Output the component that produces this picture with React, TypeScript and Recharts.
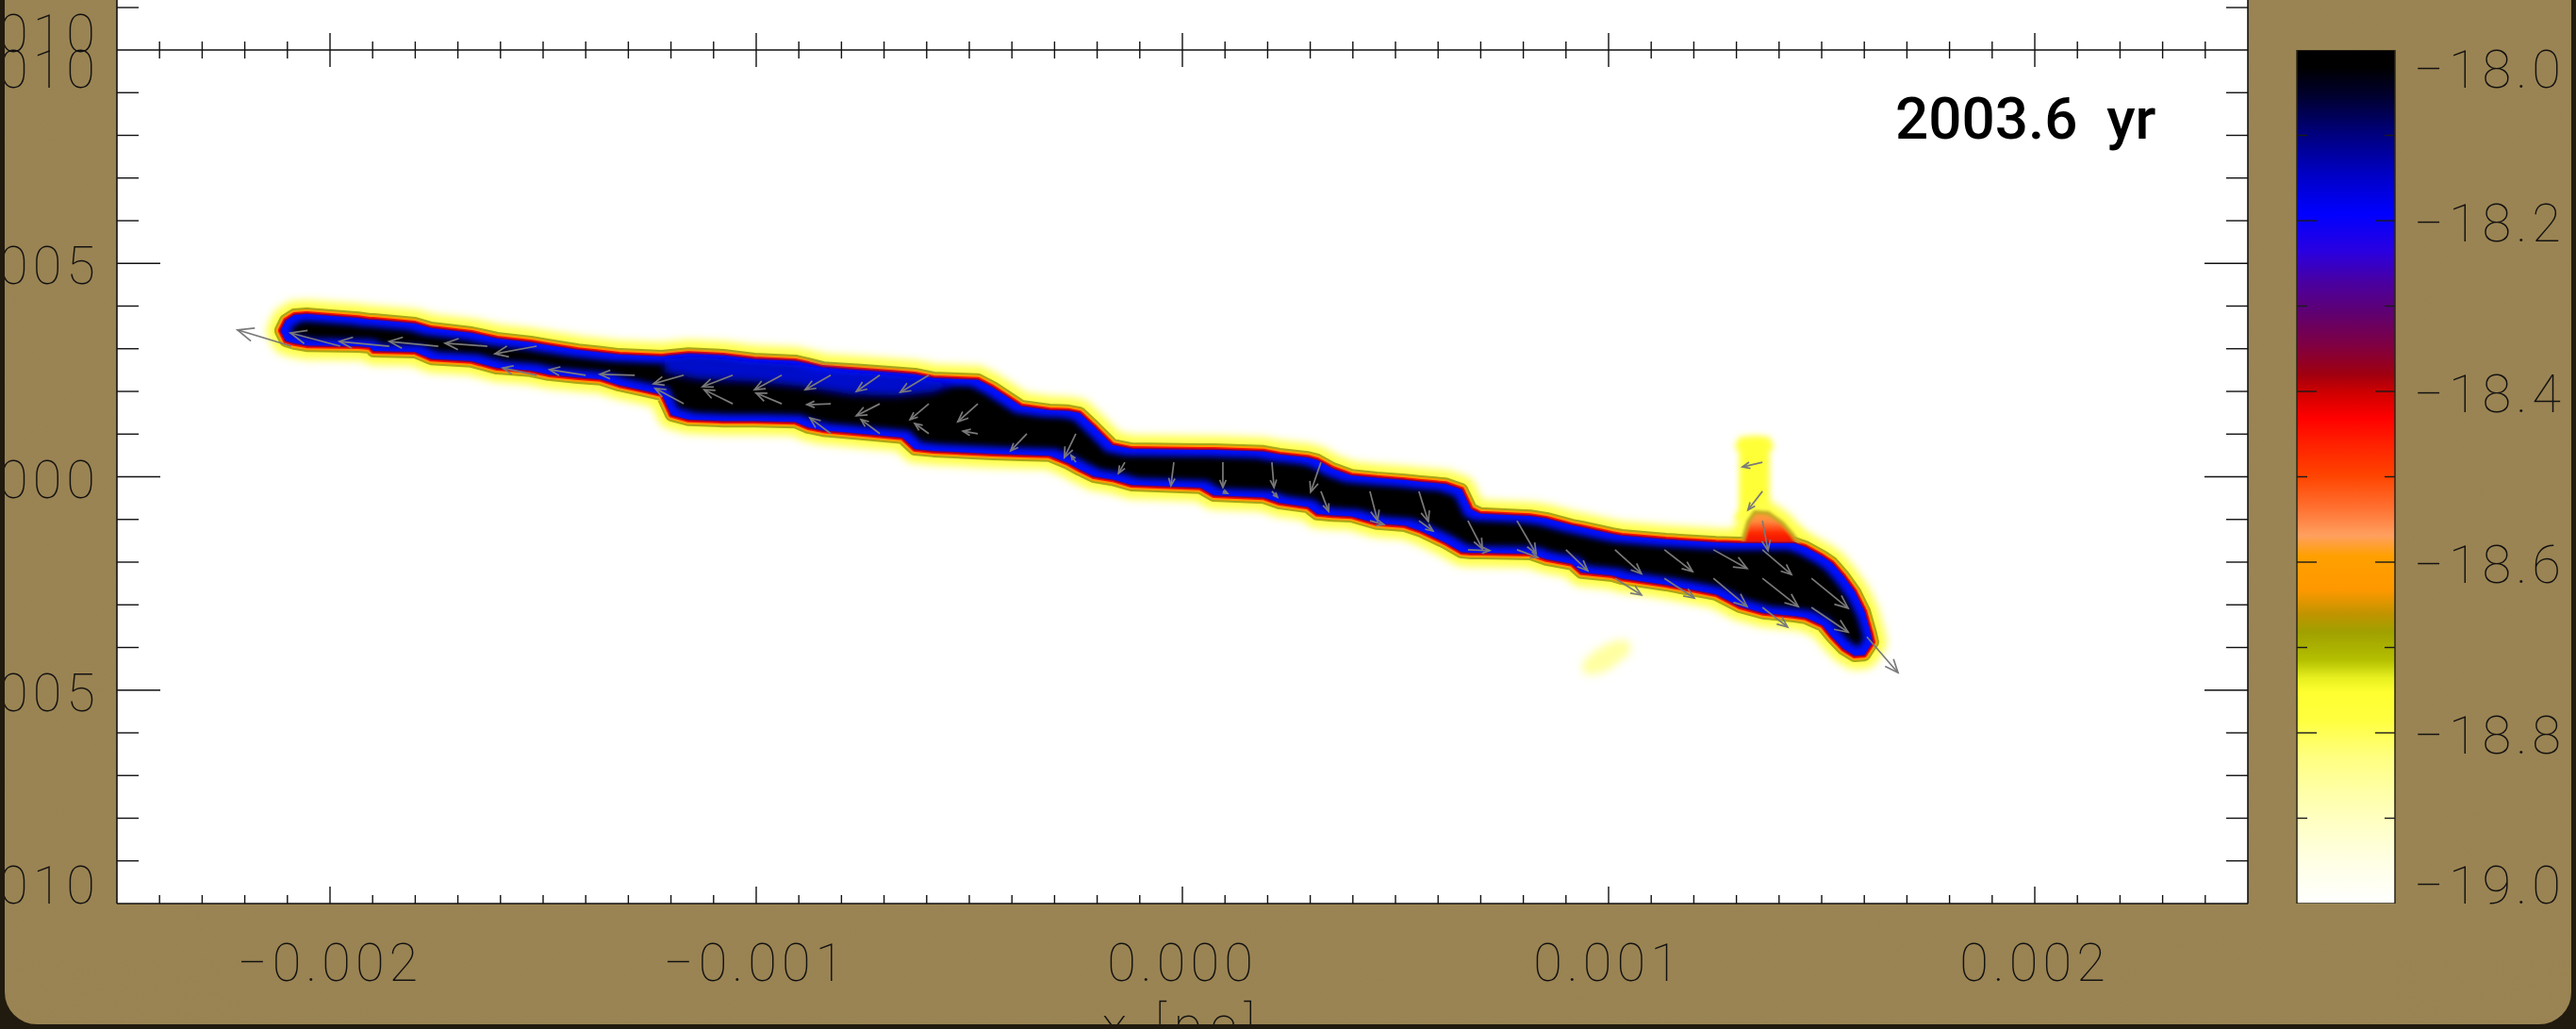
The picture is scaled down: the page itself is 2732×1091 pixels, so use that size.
import React from 'react'
import { ComposedChart, Area, Line, XAxis, YAxis, CartesianGrid, BarChart, Bar } from 'recharts'

const W = 2732
const H = 1091
// axes are 1px thick, so the plot box still lands on x 124..2384, y 53..958
const M = { top: 52, left: 123, right: 347, bottom: 132 }

// filament outline: x [pc], upper and lower edge y [pc]
const filX = [-0.002115, -0.002104, -0.002084, -0.002055, -0.001934, -0.001907, -0.001898, -0.001801, -0.001763, -0.001668,
  -0.001608, -0.001529, -0.001487, -0.001418, -0.001365, -0.001321, -0.00127, -0.001221, -0.001199, -0.001159,
  -0.001077, -0.001004, -0.000909, -0.000878, -0.000843, -0.000754, -0.000657, -0.000628, -0.000584, -0.00048,
  -0.000445, -0.000378, -0.000312, -0.000268, -0.000241, -0.000208, -0.000164, -0.000119, 0.000042, 0.000073,
  0.00019, 0.000228, 0.000294, 0.000316, 0.000352, 0.000396, 0.000456, 0.000522, 0.00056, 0.000617,
  0.000655, 0.000677, 0.000699, 0.000816, 0.000854, 0.000914, 0.000936, 0.001009, 0.001031, 0.001135,
  0.001252, 0.001308, 0.001363, 0.001436, 0.001462, 0.001502, 0.001524, 0.001551, 0.001577, 0.0016, 0.001615, 0.001619]
const filTop = [0.000344, 0.000366, 0.000379, 0.000381, 0.000372, 0.000368, 0.000368, 0.000359, 0.000348, 0.000337,
  0.000324, 0.000315, 0.000308, 0.000297, 0.000291, 0.000286, 0.000284, 0.000282, 0.000284, 0.000288,
  0.000284, 0.000275, 0.000271, 0.000264, 0.000255, 0.000249, 0.000242, 0.00024, 0.000231, 0.000227,
  0.000209, 0.000165, 0.000156, 0.000154, 0.000149, 0.000118, 0.000074, 0.000065, 0.000063, 0.000063,
  0.000059, 0.000052, 0.000045, 0.000039, 0.000019, 0.000003, -0.000003, -0.000008, -0.000012, -0.000017,
  -0.00003, -0.000076, -0.000087, -0.000092, -0.000098, -0.000114, -0.000118, -0.000134, -0.000138, -0.000147,
  -0.000154, -0.000156, -0.000156, -0.000156, -0.000165, -0.000187, -0.000202, -0.000233, -0.000269, -0.000315, -0.000368, -0.000386]
const filBot = [0.000341, 0.000319, 0.000313, 0.000308, 0.000306, 0.000304, 0.000295, 0.000293, 0.000277, 0.000271,
  0.000255, 0.000249, 0.00024, 0.000233, 0.000229, 0.000215, 0.000204, 0.000193, 0.000145, 0.000134,
  0.000131, 0.000131, 0.000129, 0.000116, 0.000109, 0.000101, 0.000092, 0.000065, 0.000061, 0.000056,
  0.000054, 0.000052, 0.00005, 0.000032, 0.000017, 0.000001, -0.000006, -0.000019, -0.000025, -0.000043,
  -0.000048, -0.000061, -0.00007, -0.000087, -0.00009, -0.000092, -0.000109, -0.000114, -0.000127, -0.000154,
  -0.000176, -0.000178, -0.000178, -0.00018, -0.000193, -0.000204, -0.000224, -0.000231, -0.000238, -0.000253,
  -0.000275, -0.000304, -0.000319, -0.000326, -0.00033, -0.000348, -0.000375, -0.000403, -0.000419, -0.000417, -0.000394, -0.000388]

// thinner gas sitting on top of the filament near the bend
const bumpX = [0.001315, 0.001328, 0.001343, 0.001374, 0.001407, 0.001432, 0.001446]
const bumpTop = [-0.000147, -0.000105, -0.000083, -0.000085, -0.000108, -0.000136, -0.000156]
const bumpBot = [-0.00017, -0.00017, -0.00017, -0.00017, -0.00017, -0.00017, -0.00017]

const plumeX = [0.001306, 0.001312, 0.001345, 0.001372, 0.001378]
const plumeTop = [0.00007, 0.000085, 0.000088, 0.000085, 0.00007]
const plumeBot = [-0.000094, -0.000094, -0.000094, -0.000094, -0.000094]

const wispX = [0.000949, 0.000971, 0.000998, 0.00102, 0.00104]
const wispTop = [-0.000441, -0.000419, -0.000403, -0.000394, -0.000394]
const wispBot = [-0.000452, -0.000452, -0.000441, -0.000423, -0.000408]

// lower-density (blue) strip inside the filament
const stripX = [-0.001215, -0.001137, -0.001004, -0.000894, -0.000783, -0.000673, -0.000584, -0.00054]
const stripTop = [0.000277, 0.000282, 0.000269, 0.000262, 0.000246, 0.000238, 0.000224, 0.00022]
const stripBot = [0.000244, 0.000229, 0.000222, 0.000211, 0.000193, 0.000189, 0.000198, 0.000215]

// velocity vectors: [x0, y0, x1, y1] in pc
const arrows: number[][] = [
  [-0.002091, 0.000306, -0.002217, 0.000344], [-0.001976, 0.000306, -0.002093, 0.000337],
  [-0.001861, 0.000306, -0.001978, 0.000317], [-0.001746, 0.000306, -0.001861, 0.000317],
  [-0.001631, 0.000306, -0.00173, 0.000313], [-0.001515, 0.000306, -0.001613, 0.000288],
  [-0.001515, 0.000238, -0.001595, 0.000255], [-0.0014, 0.000238, -0.001485, 0.000251],
  [-0.001285, 0.000238, -0.001367, 0.00024], [-0.00117, 0.000238, -0.001241, 0.000218],
  [-0.001055, 0.000238, -0.001126, 0.000211], [-0.00094, 0.000238, -0.001004, 0.000204],
  [-0.000825, 0.000238, -0.000885, 0.000204], [-0.00071, 0.000238, -0.000765, 0.0002],
  [-0.000595, 0.000238, -0.000662, 0.000198], [-0.00117, 0.000171, -0.001237, 0.000207],
  [-0.001055, 0.000171, -0.001122, 0.000204], [-0.00094, 0.000171, -0.001, 0.000196],
  [-0.000825, 0.000171, -0.000881, 0.000169], [-0.00071, 0.000171, -0.000765, 0.000143],
  [-0.000595, 0.000171, -0.000639, 0.000134], [-0.00048, 0.000171, -0.000527, 0.000129],
  [-0.000825, 0.000101, -0.000874, 0.000138], [-0.00071, 0.000101, -0.000754, 0.000134],
  [-0.000595, 0.000101, -0.000628, 0.000125], [-0.00048, 0.000101, -0.000515, 0.000107],
  [-0.000365, 0.000101, -0.000403, 0.000061], [-0.00025, 0.000101, -0.000277, 0.000045],
  [-0.00025, 0.000034, -0.000261, 0.00005], [-0.000135, 0.000034, -0.00015, 0.000008],
  [-0.00002, 0.000034, -0.000027, -0.000021], [0.000095, 0.000034, 0.000095, -0.000025],
  [0.00021, 0.000034, 0.000215, -0.000025], [0.000325, 0.000034, 0.000301, -0.000036],
  [0.001361, 0.000034, 0.001314, 0.000023], [0.000095, -0.000034, 0.000106, -0.000039],
  [0.00021, -0.000034, 0.000223, -0.000048], [0.000325, -0.000034, 0.000343, -0.000081],
  [0.00044, -0.000034, 0.000458, -0.000103], [0.000555, -0.000034, 0.000577, -0.000105],
  [0.001361, -0.000034, 0.001327, -0.000078], [0.00044, -0.000103, 0.000473, -0.000112],
  [0.000555, -0.000103, 0.000588, -0.000127], [0.00067, -0.000103, 0.000704, -0.000169],
  [0.000785, -0.000103, 0.00083, -0.00018], [0.001361, -0.000103, 0.001374, -0.000173],
  [0.00067, -0.000171, 0.000721, -0.000173], [0.000785, -0.000171, 0.000834, -0.000189],
  [0.0009, -0.000171, 0.000951, -0.00022], [0.001015, -0.000171, 0.001077, -0.000227],
  [0.001131, -0.000171, 0.001197, -0.000222], [0.001246, -0.000171, 0.001325, -0.000215],
  [0.001361, -0.000171, 0.001429, -0.000229], [0.001015, -0.000238, 0.001077, -0.000277],
  [0.001131, -0.000238, 0.001201, -0.000284], [0.001246, -0.000238, 0.001325, -0.000304],
  [0.001361, -0.000238, 0.001445, -0.000304], [0.001476, -0.000238, 0.001562, -0.000308],
  [0.001361, -0.000306, 0.00142, -0.000352], [0.001476, -0.000306, 0.001562, -0.000364],
  [0.001606, -0.000375, 0.001679, -0.000459],
]

const xMajor = [-0.002, -0.001, 0, 0.001, 0.002]
const xLabels = ['\u22120.002', '\u22120.001', '0.000', '0.001', '0.002']
const yMajor = [-0.001, -0.0005, 0, 0.0005, 0.001]
const yLabels = ['\u22120.0010', '\u22120.0005', '0.0000', '0.0005', '0.0010']
const cbMajor = [-19, -18.8, -18.6, -18.4, -18.2, -18]
const cbLabels = ['\u221219.0', '\u221218.8', '\u221218.6', '\u221218.4', '\u221218.2', '\u221218.0']
const cbStopAt = [0, 0.02, 0.052, 0.1, 0.148, 0.192, 0.236, 0.273, 0.309, 0.347, 0.38, 0.402, 0.431, 0.461, 0.499,
  0.536, 0.569, 0.593, 0.632, 0.661, 0.682, 0.715, 0.736, 0.752, 0.786, 0.828, 0.87, 0.91, 0.952, 1]
const cbStopColor = ['#000000', '#000000', '#00002c', '#000080', '#0000c8', '#0000ff', '#2a00e0', '#4a00a0', '#600070',
  '#800040', '#a00010', '#d00000', '#ff0000', '#ff2000', '#ff4400', '#ff7030', '#ffa060', '#ffa000', '#ff9800',
  '#c09400', '#a0a000', '#b4c000', '#e8f020', '#ffff30', '#ffff40', '#ffff80', '#ffffa8', '#ffffc8', '#ffffe5', '#ffffff']

const xMinor = Array.from({ length: 51 }, (_, i) => +(-0.0025 + i * 0.0001).toFixed(4))
const yMinor = Array.from({ length: 21 }, (_, i) => +(-0.001 + i * 0.0001).toFixed(4))
const cbMinor = Array.from({ length: 11 }, (_, i) => +(-19 + i * 0.1).toFixed(1))

const rows = (xs: number[], top: number[], bot: number[]) => xs.map((x, i) => ({ x, band: [bot[i], top[i]] }))
const filament = rows(filX, filTop, filBot)
const bump = rows(bumpX, bumpTop, bumpBot)
const plume = rows(plumeX, plumeTop, plumeBot)
const wisp = rows(wispX, wispTop, wispBot)
const strip = rows(stripX, stripTop, stripBot)

const FONT = 'Roboto, Inter, "DejaVu Sans", sans-serif'
const INK = '#111'
const tickFont = { fontFamily: FONT, fontSize: 56, fontWeight: 100, fill: INK, letterSpacing: 5 }
const near = (a: number, b: number) => Math.abs(a - b) < 1e-9
const idxOf = (list: number[], v: number) => list.findIndex(m => near(m, v))

const HEADS = [5, 8, 11, 14, 17]
function headFor(a: number[]) {
  const len = Math.hypot(a[2] - a[0], a[3] - a[1])
  if (len < 0.00003) return 'hd5'
  if (len < 0.00006) return 'hd8'
  if (len < 0.00009) return 'hd11'
  if (len < 0.00012) return 'hd14'
  return 'hd17'
}

// labels at the ends of an axis are pulled inside the frame
function baseline(y: number, v: number, top: number, bottom: number) {
  if (near(v, top)) return y + 40
  if (near(v, bottom)) return y
  return y + 22
}

function BottomTick({ x, y, payload }: any) {
  const v = payload.value
  const i = idxOf(xMajor, v)
  const len = i >= 0 ? 18 : 9
  return (
    <g>
      {!near(Math.abs(v), 0.0025) && <line x1={x} x2={x} y1={y} y2={y - len} stroke={INK} strokeWidth={1.4} />}
      {i >= 0 && <text x={x} y={y + 82} textAnchor="middle" {...tickFont}>{xLabels[i]}</text>}
      {near(v, 0) && <text x={x} y={y + 148} textAnchor="middle" {...tickFont} letterSpacing={8}>x [pc]</text>}
    </g>
  )
}

function TopTick({ x, y, payload }: any) {
  const v = payload.value
  if (near(Math.abs(v), 0.0025)) return null
  const len = idxOf(xMajor, v) >= 0 ? 18 : 9
  return <line x1={x} x2={x} y1={y - len} y2={y + len} stroke={INK} strokeWidth={1.4} />
}

function LeftTick({ x, y, payload }: any) {
  const v = payload.value
  const i = idxOf(yMajor, v)
  const len = i >= 0 ? 46 : 23
  return (
    <g>
      {!near(Math.abs(v), 0.001) && <line x1={x} x2={x + len} y1={y} y2={y} stroke={INK} strokeWidth={1.4} />}
      {i >= 0 && <text x={x - 18} y={baseline(y, v, 0.001, -0.001)} textAnchor="end" {...tickFont}>{yLabels[i]}</text>}
    </g>
  )
}

function RightTick({ x, y, payload }: any) {
  const v = payload.value
  if (near(Math.abs(v), 0.001)) return null
  const len = idxOf(yMajor, v) >= 0 ? 46 : 23
  return <line x1={x} x2={x - len} y1={y} y2={y} stroke={INK} strokeWidth={1.4} />
}

function CbLeftTick({ x, y, payload }: any) {
  const v = payload.value
  if (near(v, -19) || near(v, -18)) return null
  const len = idxOf(cbMajor, v) >= 0 ? 21 : 11
  return <line x1={x} x2={x + len} y1={y} y2={y} stroke="#1a1a1a" strokeWidth={1.4} />
}

function CbRightTick({ x, y, payload }: any) {
  const v = payload.value
  const i = idxOf(cbMajor, v)
  const edge = near(v, -19) || near(v, -18)
  const len = i >= 0 ? 21 : 11
  return (
    <g>
      {!edge && <line x1={x} x2={x - len} y1={y} y2={y} stroke="#1a1a1a" strokeWidth={1.4} />}
      {i >= 0 && <text x={x + 20} y={baseline(y, v, -18, -19)} {...tickFont}>{cbLabels[i]}</text>}
    </g>
  )
}

const css = `
.lay-halo { filter: url(#fHalo); }
.lay-soft { filter: url(#fSoft); }
.lay-wisp { filter: url(#fWisp); }
.lay-core { filter: url(#fCore); }
.lay-strip { filter: url(#fStrip); }
.lay-bump { filter: url(#fBump); }
`

const abs: React.CSSProperties = { position: 'absolute', left: 0, top: 0 }
const axisCommon = { interval: 0 as const, tickSize: 0, tickMargin: 0, tickLine: false, allowDataOverflow: true }

function FieldMap() {
  const area = (key: string, data: any[], p: any) => (
    <Area key={key} data={data} dataKey="band" type="linear" isAnimationActive={false} fillOpacity={1}
      strokeLinejoin="round" strokeLinecap="round" dot={false} activeDot={false} {...p} />
  )
  return (
    <ComposedChart width={W} height={H} margin={M}>
      <defs>
        <filter id="fHalo" x="-50%" y="-50%" width="200%" height="200%"><feGaussianBlur stdDeviation={4} /></filter>
        <filter id="fSoft" x="-50%" y="-50%" width="200%" height="200%"><feGaussianBlur stdDeviation={3} /></filter>
        <filter id="fBump" x="-50%" y="-50%" width="200%" height="200%"><feGaussianBlur stdDeviation={1.5} /></filter>
        <filter id="fWisp" x="-80%" y="-80%" width="260%" height="260%"><feGaussianBlur stdDeviation={5} /></filter>
        <filter id="fStrip" x="-30%" y="-80%" width="160%" height="260%"><feGaussianBlur stdDeviation={4} /></filter>
        <filter id="fCore" x="-20%" y="-50%" width="140%" height="200%">
          <feMorphology operator="erode" radius={7} />
          <feGaussianBlur stdDeviation={3} />
        </filter>
        <linearGradient id="bumpGrad" x1="0" y1="0" x2="0" y2="1">
          <stop offset="0" stopColor="#ffa030" />
          <stop offset="0.25" stopColor="#ff8a40" />
          <stop offset="0.55" stopColor="#ff2a00" />
          <stop offset="1" stopColor="#e00000" />
        </linearGradient>
        {HEADS.map(s => (
          <marker key={s} id={`hd${s}`} viewBox="0 0 10 10" refX={10} refY={5} markerWidth={s} markerHeight={s}
            markerUnits="userSpaceOnUse" orient="auto" overflow="visible">
            <path d="M0,0.8 L10,5 L0,9.2" fill="none" stroke="#7a7a7a" strokeWidth={(1.7 * 10) / s} />
          </marker>
        ))}
      </defs>
      <CartesianGrid fill="#ffffff" stroke="none" horizontal={false} vertical={false} />
      <XAxis dataKey="x" type="number" domain={[-0.0025, 0.0025]} ticks={xMinor} height={1} {...axisCommon}
        axisLine={{ stroke: INK, strokeWidth: 1.6 }} tick={<BottomTick />} />
      <XAxis xAxisId="top" orientation="top" dataKey="x" type="number" domain={[-0.0025, 0.0025]} ticks={xMinor}
        height={1} {...axisCommon} axisLine={{ stroke: INK, strokeWidth: 1.6 }} tick={<TopTick />} />
      <YAxis type="number" domain={[-0.001, 0.001]} ticks={yMinor} width={1} {...axisCommon}
        axisLine={{ stroke: INK, strokeWidth: 1.6 }} tick={<LeftTick />} />
      <YAxis yAxisId="right" orientation="right" type="number" domain={[-0.001, 0.001]} ticks={yMinor} width={1}
        {...axisCommon} axisLine={{ stroke: INK, strokeWidth: 1.6 }} tick={<RightTick />} />

      {area('plume', plume, { fill: '#ffff38', stroke: '#ffff38', strokeWidth: 8, className: 'lay-soft' })}
      {area('wisp', wisp, { fill: '#ffffa0', stroke: '#ffffa0', strokeWidth: 10, className: 'lay-wisp' })}
      {area('bumpHalo', bump, { fill: '#ffff48', stroke: '#ffff48', strokeWidth: 24, className: 'lay-halo' })}
      {area('halo', filament, { fill: '#ffff50', stroke: '#ffff50', strokeWidth: 30, className: 'lay-halo' })}
      {area('olive', filament, { fill: 'none', stroke: '#a8a818', strokeWidth: 14 })}
      {area('orange', filament, { fill: 'none', stroke: '#ff9a00', strokeWidth: 10 })}
      {area('red', filament, { fill: 'none', stroke: '#ff1000', strokeWidth: 6 })}
      {area('bump', bump, { fill: 'url(#bumpGrad)', stroke: '#c0a820', strokeWidth: 4, className: 'lay-bump' })}
      {area('rim', filament, { fill: 'none', stroke: '#8a0040', strokeWidth: 3 })}
      {area('body', filament, { fill: '#0010ff', stroke: 'none' })}
      {area('core', filament, { fill: '#000000', stroke: 'none', className: 'lay-core' })}
      {area('strip', strip, { fill: '#0008e0', stroke: 'none', fillOpacity: 0.9, className: 'lay-strip' })}

      {arrows.map((a, i) => (
        <Line key={`v${i}`} data={[{ x: a[0], y: a[1] }, { x: a[2], y: a[3] }]} dataKey="y" type="linear"
          stroke="#7a7a7a" strokeWidth={1.7} dot={false} activeDot={false} isAnimationActive={false}
          markerEnd={`url(#${headFor(a)})`} />
      ))}
    </ComposedChart>
  )
}

function ColorBar() {
  return (
    <BarChart width={W} height={H} data={[{ name: 'cb', span: [-19, -18] }]} barCategoryGap={0}
      margin={{ top: 53, left: 2435, right: W - 2541, bottom: H - 958 }}>
      <defs>
        <linearGradient id="cbGrad" x1="0" y1="0" x2="0" y2="1">
          {cbStopAt.map((o, i) => <stop key={i} offset={o} stopColor={cbStopColor[i]} />)}
        </linearGradient>
      </defs>
      <XAxis dataKey="name" hide />
      <YAxis yAxisId="l" type="number" domain={[-19, -18]} ticks={cbMinor} width={1} {...axisCommon}
        axisLine={false} tick={<CbLeftTick />} />
      <YAxis yAxisId="r" orientation="right" type="number" domain={[-19, -18]} ticks={cbMinor} width={1}
        {...axisCommon} axisLine={false} tick={<CbRightTick />} />
      <Bar yAxisId="l" dataKey="span" fill="url(#cbGrad)" stroke="#2a2416" strokeWidth={1.5} isAnimationActive={false} />
    </BarChart>
  )
}

function Backdrop() {
  return (
    <svg width={W} height={H} style={abs}>
      <defs>
        <filter id="paperNoise" x="0" y="0" width="100%" height="100%">
          <feTurbulence type="fractalNoise" baseFrequency="0.7" numOctaves={2} seed={7} />
          <feColorMatrix type="matrix" values="0 0 0 0 0.28  0 0 0 0 0.22  0 0 0 0 0.1  2.6 0 0 0 -1.25" />
        </filter>
      </defs>
      <rect width={W} height={H} fill="#9b8453" />
      <rect width={W} height={H} filter="url(#paperNoise)" opacity={0.3} />
      {/* bottom strip of the panel above */}
      <rect x={124} y={0} width={2260} height={53} fill="#ffffff" />
      <line x1={124} x2={124} y1={0} y2={53} stroke={INK} strokeWidth={1.6} />
      <line x1={2384} x2={2384} y1={0} y2={53} stroke={INK} strokeWidth={1.6} />
      <line x1={124} x2={147} y1={8} y2={8} stroke={INK} strokeWidth={1.4} />
      <line x1={2384} x2={2361} y1={8} y2={8} stroke={INK} strokeWidth={1.4} />
      <text x={106} y={55} textAnchor="end" {...tickFont}>{'\u22120.0010'}</text>
    </svg>
  )
}

export default function App() {
  return (
    <div style={{ position: 'absolute', left: 0, top: 0, width: W, height: H, background: '#211b0f', overflow: 'hidden' }}>
      <style>{css}</style>
      <div style={{ position: 'absolute', left: 5, top: 0, width: W - 10, height: H - 5, overflow: 'hidden',
        borderBottomLeftRadius: 34, borderBottomRightRadius: 34 }}>
        <div style={{ position: 'absolute', left: -5, top: 0, width: W, height: H }}>
          <Backdrop />
          <div style={abs}><FieldMap /></div>
          <div style={abs}><ColorBar /></div>
          <svg width={W} height={H} style={{ ...abs, pointerEvents: 'none' }}>
            <text x={2010} y={147} fontFamily={FONT} fontSize={62} fontWeight={500} fill="#000" xmlSpace="preserve"
              style={{ whiteSpace: 'pre' }}>{'2003.6  yr'}</text>
          </svg>
        </div>
      </div>
    </div>
  )
}
